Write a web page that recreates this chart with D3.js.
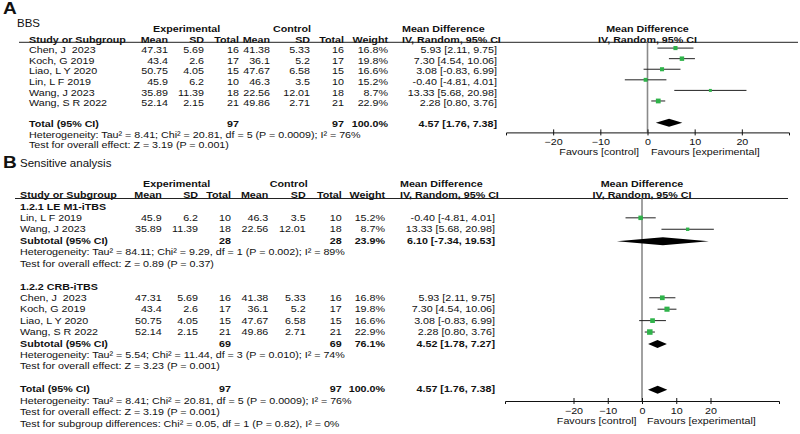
<!DOCTYPE html>
<html>
<head>
<meta charset="utf-8">
<script src="https://cdn.jsdelivr.net/npm/d3@7"></script>
<style>
  body { margin: 0; background: #fff; }
  svg { display: block; font-family: "Liberation Sans", Arial, sans-serif; }
</style>
</head>
<body>
<svg id="chart" width="800" height="434"></svg>
<script>
// study level data (BBS)
var studies = ["Chen, J  2023", "Koch, G 2019", "Liao, L Y 2020", "Lin, L F 2019", "Wang, J 2023", "Wang, S R 2022"];
var expMean = ["47.31", "43.4", "50.75", "45.9", "35.89", "52.14"];
var expSD = ["5.69", "2.6", "4.05", "6.2", "11.39", "2.15"];
var expN = [16, 17, 15, 10, 18, 21];
var ctlMean = ["41.38", "36.1", "47.67", "46.3", "22.56", "49.86"];
var ctlSD = ["5.33", "5.2", "6.58", "3.5", "12.01", "2.71"];
var ctlN = [16, 17, 15, 10, 18, 21];
var weight = [16.8, 19.8, 16.6, 15.2, 8.7, 22.9];
var md = [5.93, 7.30, 3.08, -0.40, 13.33, 2.28];
var mdLow = [2.11, 4.54, -0.83, -4.81, 5.68, 0.80];
var mdHigh = [9.75, 10.06, 6.99, 4.01, 20.98, 3.76];

// pooled results
var total = {label: "Total (95% CI)", expN: 97, ctlN: 97, weight: 100.0, md: 4.57, lo: 1.76, hi: 7.38,
  het: "Heterogeneity: Tau\u00b2 = 8.41; Chi\u00b2 = 20.81, df = 5 (P = 0.0009); I\u00b2 = 76%",
  test: "Test for overall effect: Z = 3.19 (P = 0.001)"};

// sensitivity subgroups (indices into the study arrays)
var subgroupNames = ["1.2.1 LE M1-iTBS", "1.2.2 CRB-iTBS"];
var subgroupMembers = [[3, 4], [0, 1, 2, 5]];
var subtotals = [
  {label: "Subtotal (95% CI)", expN: 28, ctlN: 28, weight: 23.9, md: 6.10, lo: -7.34, hi: 19.53,
   het: "Heterogeneity: Tau\u00b2 = 84.11; Chi\u00b2 = 9.29, df = 1 (P = 0.002); I\u00b2 = 89%",
   test: "Test for overall effect: Z = 0.89 (P = 0.37)"},
  {label: "Subtotal (95% CI)", expN: 69, ctlN: 69, weight: 76.1, md: 4.52, lo: 1.78, hi: 7.27,
   het: "Heterogeneity: Tau\u00b2 = 5.54; Chi\u00b2 = 11.44, df = 3 (P = 0.010); I\u00b2 = 74%",
   test: "Test for overall effect: Z = 3.23 (P = 0.001)"}
];
var subgroupTest = "Test for subgroup differences: Chi\u00b2 = 0.05, df = 1 (P = 0.82), I\u00b2 = 0%";

var tickValues = [-20, -10, 0, 10, 20];

var SX = 1.19;   // text in the source is horizontally stretched
var FS = 9;
var GREEN = "#2fb34a";

var svg = d3.select("#chart");
svg.append("rect").attr("width", 800).attr("height", 434).attr("fill", "#fff");

function txt(g, x, y, s, anchor, bold, size) {
    return g.append("text")
        .attr("transform", "translate(" + x + "," + y + ") scale(" + SX + ",1)")
        .attr("dy", "0.35em")
        .attr("text-anchor", anchor || "start")
        .style("font-size", (size || FS) + "px")
        .style("font-weight", bold ? "bold" : null)
        .style("white-space", "pre")
        .attr("fill", "#111")
        .text(s);
}

function ciText(m, lo, hi) {
    return m.toFixed(2) + " [" + lo.toFixed(2) + ", " + hi.toFixed(2) + "]";
}

function drawPanel(cfg) {
    var g = svg.append("g");
    var c = cfg.cols;
    var y = cfg.rowY;
    var x = d3.scaleLinear().domain(cfg.domain).range(cfg.range);

    // headers
    txt(g, c.expHead, y(-1), "Experimental", "middle", true);
    txt(g, c.ctlHead, y(-1), "Control", "middle", true);
    txt(g, c.ciLeft, y(-1), "Mean Difference", "start", true);
    txt(g, x(0), y(-1), "Mean Difference", "middle", true);
    txt(g, c.study, y(0), "Study or Subgroup", "start", true);
    [["Mean", c.expMean], ["SD", c.expSD], ["Total", c.expN], ["Mean", c.ctlMean],
     ["SD", c.ctlSD], ["Total", c.ctlN], ["Weight", c.weight]].forEach(function(h) {
        txt(g, h[1], y(0), h[0], "end", true);
    });
    txt(g, c.ciLeft, y(0), "IV, Random, 95% CI", "start", true);
    txt(g, x(0), y(0), "IV, Random, 95% CI", "middle", true);
    g.append("line").attr("x1", c.lineX0).attr("x2", c.lineX1)
        .attr("y1", y(0) + cfg.ruleOff).attr("y2", y(0) + cfg.ruleOff)
        .attr("stroke", "#222").attr("stroke-width", 1);

    // zero line
    g.append("line").attr("x1", x(0)).attr("x2", x(0))
        .attr("y1", y(0) + cfg.ruleOff).attr("y2", cfg.axisY)
        .attr("stroke", "#8a8a8a").attr("stroke-width", 1.6);

    cfg.rows.forEach(function(r) {
        var ry = y(r.i);
        if (r.type === "head") {
            txt(g, c.study, ry, r.text, "start", true);
        } else if (r.type === "note") {
            txt(g, c.study, ry, r.text, "start", false);
        } else if (r.type === "study") {
            var k = r.k;
            txt(g, c.study, ry, studies[k]);
            txt(g, c.expMean, ry, expMean[k], "end");
            txt(g, c.expSD, ry, expSD[k], "end");
            txt(g, c.expN, ry, expN[k], "end");
            txt(g, c.ctlMean, ry, ctlMean[k], "end");
            txt(g, c.ctlSD, ry, ctlSD[k], "end");
            txt(g, c.ctlN, ry, ctlN[k], "end");
            txt(g, c.weight, ry, weight[k].toFixed(1) + "%", "end");
            txt(g, c.ciRight, ry, ciText(md[k], mdLow[k], mdHigh[k]), "end");
            var my = ry + cfg.markOff;
            g.append("line").attr("x1", x(mdLow[k])).attr("x2", x(mdHigh[k]))
                .attr("y1", my).attr("y2", my).attr("stroke", "#222").attr("stroke-width", 1);
            var s = cfg.boxK * Math.sqrt(weight[k]);
            g.append("rect").attr("x", x(md[k]) - s / 2).attr("y", my - s / 2)
                .attr("width", s).attr("height", s).attr("fill", GREEN);
        } else if (r.type === "pool") {
            var p = r.p;
            txt(g, c.study, ry, p.label, "start", true);
            txt(g, c.expN, ry, p.expN, "end", true);
            txt(g, c.ctlN, ry, p.ctlN, "end", true);
            txt(g, c.weight, ry, p.weight.toFixed(1) + "%", "end", true);
            txt(g, c.ciRight, ry, ciText(p.md, p.lo, p.hi), "end", true);
            var dy = ry + cfg.diaOff, h = 4;
            g.append("path")
                .attr("d", "M" + x(p.lo) + "," + dy + "L" + x(p.md) + "," + (dy - h) +
                     "L" + x(p.hi) + "," + dy + "L" + x(p.md) + "," + (dy + h) + "Z")
                .attr("fill", "#000");
        }
    });

    // axis
    var axis = d3.axisBottom(x).tickValues(tickValues).tickSizeOuter(0).tickSize(3);
    var ag = g.append("g").attr("transform", "translate(0," + cfg.axisY + ")").call(axis);
    ag.select(".domain").attr("stroke", "#111");
    ag.selectAll(".tick line").attr("y1", -3).attr("y2", 3).attr("stroke", "#111");
    ag.selectAll(".tick text")
        .attr("y", 9.5).attr("dy", "0.35em")
        .attr("transform", "scale(" + SX + ",1)")
        .style("font-size", FS + "px").style("font-family", "Liberation Sans, Arial, sans-serif")
        .attr("fill", "#111");
    txt(g, x(0) - cfg.favGap[0], cfg.axisY + 19.5, "Favours [control]", "end");
    txt(g, x(0) + cfg.favGap[1], cfg.axisY + 19.5, "Favours [experimental]", "start");
}

// panel A: all studies
var rowsA = [];
studies.forEach(function(s, k) { rowsA.push({type: "study", i: k + 1, k: k}); });
rowsA.push({type: "pool", i: 8, p: total});
rowsA.push({type: "note", i: 9, text: total.het});
rowsA.push({type: "note", i: 10, text: total.test});

// panel B: subgroups
var rowsB = [];
var idx = 1;
subgroupNames.forEach(function(name, gI) {
    rowsB.push({type: "head", i: idx++, text: name});
    subgroupMembers[gI].forEach(function(k) { rowsB.push({type: "study", i: idx++, k: k}); });
    rowsB.push({type: "pool", i: idx++, p: subtotals[gI]});
    rowsB.push({type: "note", i: idx++, text: subtotals[gI].het});
    rowsB.push({type: "note", i: idx++, text: subtotals[gI].test});
    idx++;
});
rowsB.push({type: "pool", i: idx++, p: total});
rowsB.push({type: "note", i: idx++, text: total.het});
rowsB.push({type: "note", i: idx++, text: total.test});
rowsB.push({type: "note", i: idx++, text: subgroupTest});

// panel titles
txt(svg, 3, 8, "A", "start", true, 16);
svg.append("text").attr("x", 17).attr("y", 27).style("font-size", "11.5px").attr("fill", "#111").text("BBS");
txt(svg, 3, 162, "B", "start", true, 16);
svg.append("text").attr("x", 20).attr("y", 166.5).style("font-size", "11.5px").attr("fill", "#111").text("Sensitive analysis");

drawPanel({
    rows: rowsA,
    rowY: d3.scaleLinear().domain([0, 1]).range([39.5, 50.08]),
    cols: {study: 29, expMean: 168, expSD: 204, expN: 239, ctlMean: 270, ctlSD: 310, ctlN: 344,
           weight: 388, ciLeft: 402, ciRight: 497, expHead: 186.7, ctlHead: 292, lineX0: 19, lineX1: 798},
    domain: [-30, 30], range: [506, 789],
    ruleOff: 2.8, axisY: 132.4, markOff: -2, diaOff: -1.4, boxK: 1.0, favGap: [8.5, 3.5]
});

drawPanel({
    rows: rowsB,
    rowY: d3.scaleLinear().domain([0, 1]).range([195, 206.42]),
    cols: {study: 20, expMean: 161.7, expSD: 198, expN: 231, ctlMean: 268.3, ctlSD: 305.7, ctlN: 341.7,
           weight: 385, ciLeft: 400, ciRight: 495, expHead: 176.7, ctlHead: 288.7, lineX0: 15, lineX1: 788},
    domain: [-40, 40], range: [505, 779],
    ruleOff: 3.5, axisY: 401, markOff: 0, diaOff: 0.5, boxK: 1.15, favGap: [5.5, 5]
});
</script>
</body>
</html>
